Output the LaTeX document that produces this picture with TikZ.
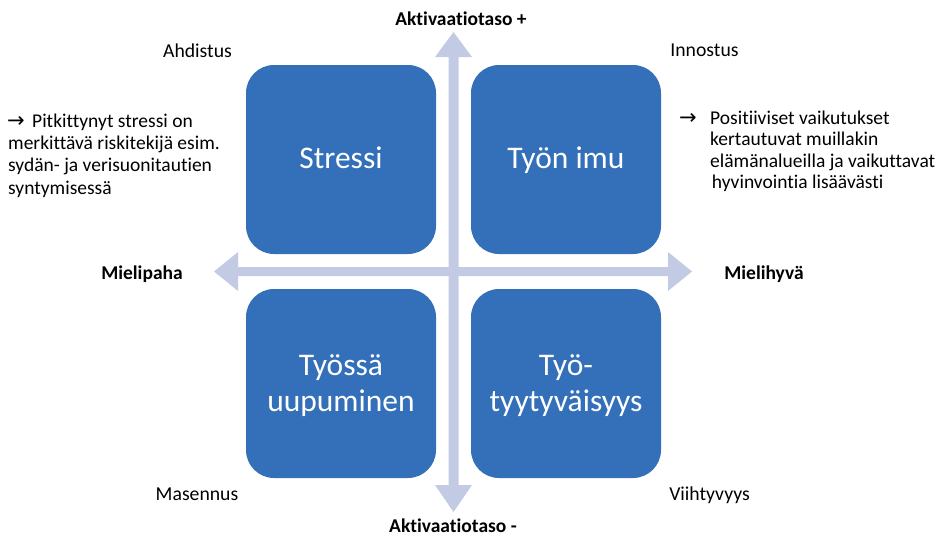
\documentclass[tikz,border=0pt]{standalone}
\usepackage{fontspec}
\setmainfont[Ligatures=NoCommon]{Carlito}
\newfontfamily\symfont{DejaVu Sans}
\definecolor{boxblue}{HTML}{3370B9}
\definecolor{axisblue}{HTML}{C3CBE4}
\begin{document}
\begin{tikzpicture}[x=1pt,y=-1pt,
  quad/.style={text=white,font=\fontsize{31.5}{36}\selectfont,align=center,inner sep=0pt},
  lab/.style={font=\fontsize{19.7}{22}\selectfont,inner sep=0pt,anchor=base},
  blab/.style={font=\bfseries\fontsize{19.5}{22}\selectfont,inner sep=0pt,anchor=base},
  note/.style={font=\fontsize{19.5}{22}\selectfont,inner sep=0pt,anchor=base west},
  arr/.style={font=\symfont\fontsize{21}{22}\selectfont,inner sep=0pt,anchor=base west},
  axis/.style={fill=axisblue}]
\useasboundingbox (0,0) rectangle (950,536);
% axes
\fill[axis] (448.5,57) -- (435,57) -- (453.5,32) -- (472,57) -- (458.5,57)
  -- (458.5,485) -- (472,485) -- (453.5,512) -- (435,485) -- (448.5,485) -- cycle;
\fill[axis] (238,267) -- (238,252) -- (214,271.5) -- (238,291) -- (238,276)
  -- (668,276) -- (668,291) -- (692,271.5) -- (668,252) -- (668,267) -- cycle;
% quadrants
\fill[boxblue,rounded corners=28pt] (246,65) rectangle (436,254);
\fill[boxblue,rounded corners=28pt] (471,65) rectangle (661,254);
\fill[boxblue,rounded corners=28pt] (246,289) rectangle (436,478);
\fill[boxblue,rounded corners=28pt] (471,289) rectangle (661,478);
\node[quad,anchor=base] (stressi) at (341,168.3) {Stressi};
\node[quad,anchor=base] (imu) at (566,168.3) {Työn imu};
\node[quad] (uupuminen) at (341,386) {Työssä\\uupuminen};
\node[quad] (tyytyv) at (566,386) {Työ-\\tyytyväisyys};
% axis labels
\node[blab] (akplus) at (461,25) {Aktivaatiotaso +};
\node[blab] (akminus) at (453,532) {Aktivaatiotaso -};
\node[blab] (mielipaha) at (142,279.5) {Mielipaha};
\node[blab] (mielihyva) at (764,279) {Mielihyvä};
% corner labels
\node[lab] (ahdistus) at (197.5,57.3) {Ahdistus};
\node[lab] (innostus) at (704.5,56.7) {Innostus};
\node[lab] (masennus) at (197,500) {Masennus};
\node[lab] (viihtyvyys) at (709.5,500.5) {Viihtyvyys};
% left note
\node[arr] (larrow) at (7,127.3) {→};
\node[note] (l1) at (32,127.3) {Pitkittynyt stressi on};
\node[note] (l2) at (8,149.5) {merkittävä riskitekijä esim.};
\node[note] (l3) at (8,171.7) {sydän- ja verisuonitautien};
\node[note] (l4) at (8,194) {syntymisessä};
% right note
\node[arr] (rarrow) at (679,124) {→};
\node[note] (r1) at (710,124) {Positiiviset vaikutukset};
\node[note] (r2) at (710,145.5) {kertautuvat muillakin};
\node[note] (r3) at (710,167) {elämänalueilla ja vaikuttavat};
\node[note] (r4) at (711.7,188.5) {hyvinvointia lisäävästi};
\end{tikzpicture}
\end{document}
